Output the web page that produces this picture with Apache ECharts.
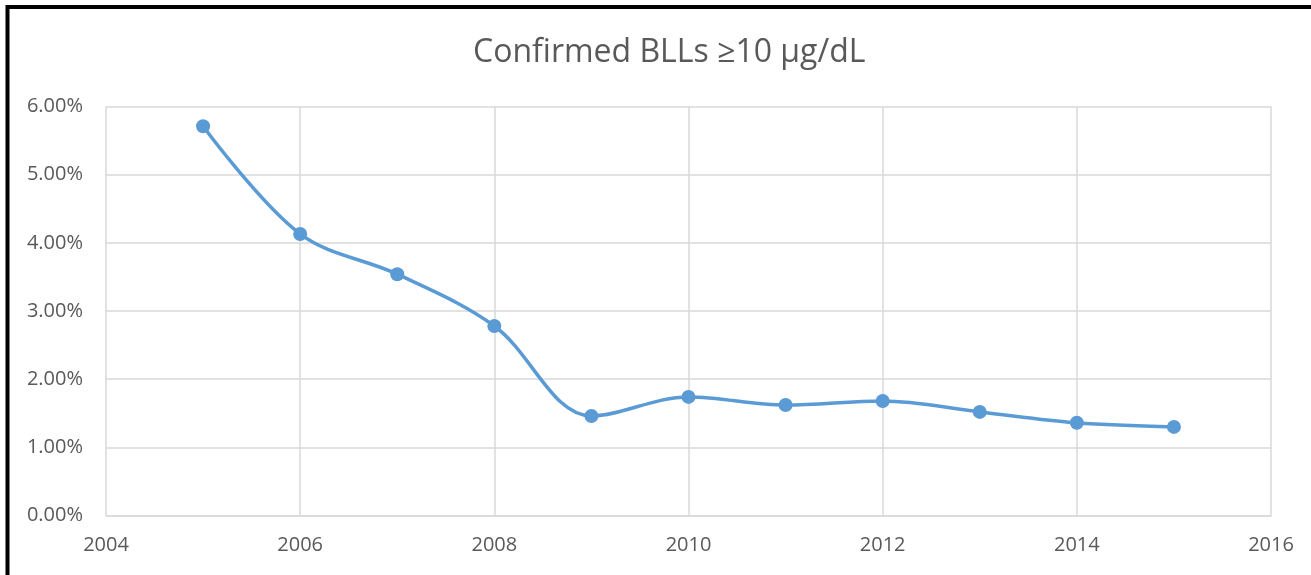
<!DOCTYPE html>
<html>
<head>
<meta charset="utf-8">
<script src="https://cdn.jsdelivr.net/npm/echarts@6/dist/echarts.min.js"></script>
<style>
html,body{margin:0;padding:0;background:#fff;}
#chart{width:1311px;height:575px;}
</style>
</head>
<body>
<div id="chart"></div>
<script>
const titleText = 'Confirmed BLLs \u226510 \u00b5g/dL';
const years = [2005, 2006, 2007, 2008, 2009, 2010, 2011, 2012, 2013, 2014, 2015];
const pctValues = [5.71, 4.13, 3.54, 2.78, 1.46, 1.74, 1.62, 1.68, 1.52, 1.36, 1.30];
const xTicks = [2004, 2006, 2008, 2010, 2012, 2014, 2016];
const yTicks = [0, 1, 2, 3, 4, 5, 6];

const chart = echarts.init(document.getElementById('chart'), null, {renderer: 'canvas'});
const font = '"Open Sans", sans-serif';
chart.setOption({
  animation: false,
  backgroundColor: '#fff',
  title: {
    text: titleText,
    left: 468,
    top: 32,
    textStyle: {fontFamily: font, fontSize: 32, fontWeight: 'normal', color: '#595959'}
  },
  graphic: [{
    type: 'rect',
    shape: {x: 7.5, y: 7, width: 1400, height: 700},
    style: {fill: 'none', stroke: '#000', lineWidth: 4},
    silent: true
  }],
  grid: {left: 106, right: 40, top: 106.5, bottom: 59.5, containLabel: false},
  xAxis: {
    type: 'value',
    min: xTicks[0],
    max: xTicks[xTicks.length - 1],
    interval: 2,
    axisLine: {show: true, lineStyle: {color: '#d9d9d9', width: 1.5}},
    axisTick: {show: false},
    splitLine: {show: true, lineStyle: {color: '#d9d9d9', width: 1.5}},
    axisLabel: {fontFamily: font, fontSize: 20, color: '#595959', margin: 20, formatter: v => String(v)}
  },
  yAxis: {
    type: 'value',
    min: yTicks[0],
    max: yTicks[yTicks.length - 1],
    interval: 1,
    axisLine: {show: false},
    axisTick: {show: false},
    splitLine: {show: true, lineStyle: {color: '#d9d9d9', width: 1.5}},
    axisLabel: {fontFamily: font, fontSize: 20, color: '#595959', margin: 23, formatter: v => v.toFixed(2) + '%'}
  },
  series: [{
    type: 'line',
    data: years.map((y, i) => [y, pctValues[i]]),
    smooth: 0.35,
    symbol: 'circle',
    symbolSize: 14,
    lineStyle: {color: '#5b9bd5', width: 3.5},
    itemStyle: {color: '#5b9bd5'}
  }]
});
</script>
</body>
</html>
